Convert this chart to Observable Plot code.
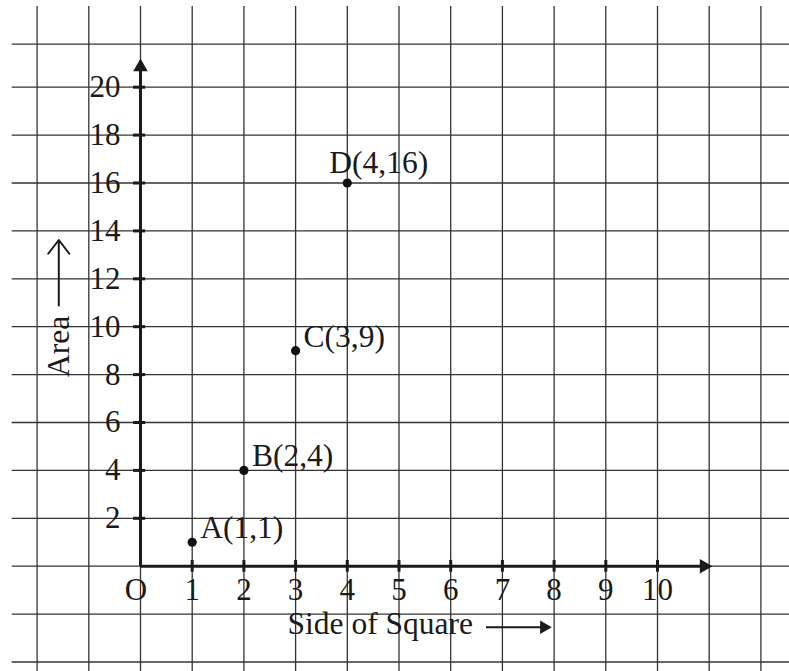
<!DOCTYPE html>
<html>
<head>
<meta charset="utf-8">
<script src="https://cdn.jsdelivr.net/npm/d3@7"></script>
<script src="https://cdn.jsdelivr.net/npm/@observablehq/plot@0.6"></script>
<style>
  html, body { margin: 0; padding: 0; background: #fff; }
  svg { display: block; }
</style>
</head>
<body>
<div id="chart"></div>
<script>
// Squares: side length against area
const pointNames = ["A", "B", "C", "D"];
const sides = [1, 2, 3, 4];
const areas = [1, 4, 9, 16];

// Axis ticks and labels
const xTicks = [0, 1, 2, 3, 4, 5, 6, 7, 8, 9, 10];
const xTickLabels = ["O", "1", "2", "3", "4", "5", "6", "7", "8", "9", "10"];
const yTicks = [2, 4, 6, 8, 10, 12, 14, 16, 18, 20];
const yTickLabels = ["2", "4", "6", "8", "10", "12", "14", "16", "18", "20"];

// Graph-paper lines
const gridX = [-2, -1, 0, 1, 2, 3, 4, 5, 6, 7, 8, 9, 10, 11, 12];
const gridY = [-4, -2, 0, 2, 4, 6, 8, 10, 12, 14, 16, 18, 20, 21.8];

// Page geometry (pixels)
const W = 789, H = 671;
const originX = 140, originY = 565.7;
const unitX = 51.7, unitY = 23.95;
const xDomain = [-originX / unitX, (W - originX) / unitX];
const yDomain = [-(H - originY) / unitY, originY / unitY];

// Extents of the drawn axes and paper
const xAxisEnd = 11.06, yAxisEnd = 21.19;
const gridTop = (originY - 6) / unitY;
const gridLeft = (11.7 - originX) / unitX;

const points = pointNames.map((name, i) => ({ name, x: sides[i], y: areas[i] }));
const xTickData = xTicks.map((v, i) => ({ v, label: xTickLabels[i] }));
const yTickData = yTicks.map((v, i) => ({ v, label: yTickLabels[i] }));

const font = "'Liberation Serif', 'Times New Roman', serif";
const ink = "#1a1a1a";
const labelSize = 31.5, tickSize = 31;

const chart = Plot.plot({
  width: W,
  height: H,
  margin: 0,
  style: { fontFamily: font, background: "#fff", color: ink },
  x: { domain: xDomain, range: [0, W], axis: null },
  y: { domain: yDomain, range: [H, 0], axis: null },
  marks: [
    // graph paper
    Plot.ruleX(gridX, { x: d => d, y1: yDomain[0], y2: gridTop, stroke: "#333", strokeWidth: 1.3 }),
    Plot.ruleY(gridY, { y: d => d, x1: gridLeft, x2: xDomain[1], stroke: "#333", strokeWidth: 1.3 }),

    // axes
    Plot.ruleY([0], { x1: 0, x2: xAxisEnd - 0.15, stroke: ink, strokeWidth: 3 }),
    Plot.ruleX([0], { y1: 0, y2: yAxisEnd - 0.3, stroke: ink, strokeWidth: 3 }),
    Plot.dot([{ x: xAxisEnd, y: 0 }], { x: "x", y: "y", symbol: "triangle", r: 5.4, rotate: 90, dx: -8.3, fill: ink, stroke: "none" }),
    Plot.dot([{ x: 0, y: yAxisEnd }], { x: "x", y: "y", symbol: "triangle", r: 5.4, dy: 8.3, fill: ink, stroke: "none" }),

    // tick marks
    Plot.ruleX(xTickData.filter(d => d.v > 0), { x: "v", y1: -0.25, y2: 0.24, stroke: ink, strokeWidth: 3 }),
    Plot.ruleY(yTickData, { y: "v", x1: -0.135, x2: 0.1, stroke: ink, strokeWidth: 3 }),

    // tick labels
    Plot.text(xTickData.filter(d => d.v > 0), { x: "v", y: 0, text: "label", dy: 24, fontSize: tickSize, fill: ink }),
    Plot.text(xTickData.filter(d => d.v === 0), { x: "v", y: 0, text: "label", dx: -4.5, dy: 24, fontSize: tickSize, fill: ink }),
    Plot.text(yTickData, { x: 0, y: "v", text: "label", textAnchor: "end", dx: -20, fontSize: tickSize, fill: ink }),

    // axis titles
    Plot.text(["Side of Square"], { x: (287 - originX) / unitX, y: -2.42, text: d => d, textAnchor: "start", fontSize: labelSize, fill: ink }),
    Plot.ruleY([-2.55], { x1: (486 - originX) / unitX, x2: (541 - originX) / unitX, stroke: ink, strokeWidth: 2 }),
    Plot.dot([{ x: (551 - originX) / unitX, y: -2.55 }], { x: "x", y: "y", symbol: "triangle", r: 5, rotate: 90, dx: -7.5, fill: ink, stroke: "none" }),

    Plot.text(["Area"], { x: (58.3 - originX) / unitX, y: (originY - 346) / unitY, text: d => d, rotate: -90, fontSize: labelSize, fill: ink }),
    Plot.arrow([{ x: (58.3 - originX) / unitX, y1: (originY - 305) / unitY, y2: (originY - 239.5) / unitY }], {
      x: "x", y1: "y1", y2: "y2", stroke: ink, strokeWidth: 2, headLength: 13, headAngle: 75
    }),

    // data points and their labels
    Plot.dot(points, { x: "x", y: "y", r: 4.6, fill: "#111", stroke: "none" }),
    Plot.text(points.filter(d => d.name !== "D"), {
      x: "x", y: "y", text: d => `${d.name}(${d.x},${d.y})`,
      textAnchor: "start", dx: 8, dy: -14, fontSize: labelSize, fill: ink
    }),
    Plot.text(points.filter(d => d.name === "D"), {
      x: "x", y: "y", text: d => `${d.name}(${d.x},${d.y})`,
      textAnchor: "start", dx: -18, dy: -20, fontSize: labelSize, fill: ink
    })
  ]
});

document.getElementById("chart").appendChild(chart);
</script>
</body>
</html>
